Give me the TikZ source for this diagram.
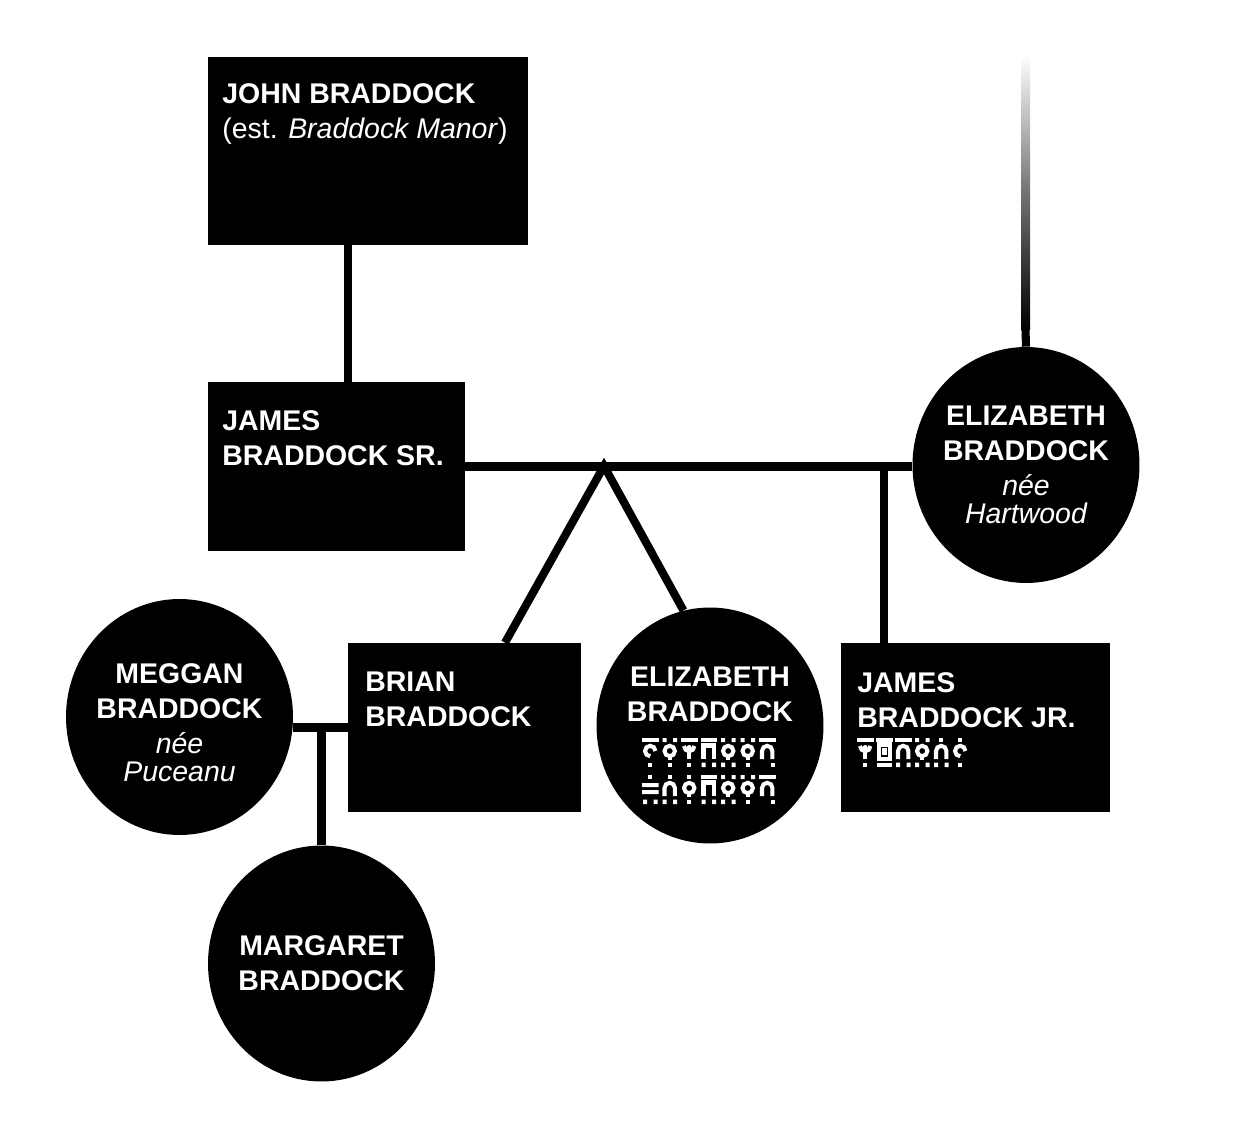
\documentclass[tikz,border=0pt]{standalone}
\usepackage{fontspec}
\setmainfont{Liberation Sans}
\usetikzlibrary{shapes.geometric}

\newcommand{\namesize}{\fontsize{16.2pt}{19.9pt}\selectfont}
\tikzset{
  box/.style={rectangle, fill=black, inner sep=0pt},
  disc/.style={ellipse, fill=black, inner sep=0pt, minimum width=4.54cm, minimum height=4.72cm},
  nametext/.style={text=white, inner sep=0pt, align=left, font=\namesize\bfseries},
  link/.style={line width=4.6pt},
  glyphline/.style={draw=white, line width=2.3pt},
}
% pieces of the made-up script, 16 x 29 px
\newcommand{\gbar}{\fill[white] (0,0) rectangle (16.5,4.2);}
\newcommand{\gtwo}{\fill[white] (1,0) rectangle (5,4.2) (11.5,0) rectangle (15.5,4.2);}
\newcommand{\gone}{\fill[white] (6.2,0) rectangle (10.2,4.2);}
\newcommand{\gring}{\draw[glyphline] (8.2,13) circle (5.2); \fill[white] (6.2,18) rectangle (10.2,22);}
\newcommand{\garch}{\draw[glyphline] (3,21) -- (3,13) arc (180:360:5.2) -- (13.4,21);}
\newcommand{\gcup}{\draw[glyphline] (3,8) arc (180:0:5.2); \fill[white] (8.2,9.5) circle (2.5); \fill[white] (6.2,13) rectangle (10.2,21);}
\newcommand{\gcee}{\draw[glyphline] (13.4,13) arc (0:-270:5.2);}
\newcommand{\gpi}{\draw[glyphline] (3,21) -- (3,7.5) -- (13.4,7.5) -- (13.4,21); \fill[white] (3,5.5) rectangle (13.4,10);}
\newcommand{\gbox}{\draw[glyphline] (2.6,6.5) rectangle (13.8,21); \fill[white] (5.8,10) rectangle (10.6,17);}
\newcommand{\gbars}{\fill[white] (0,8) rectangle (16.5,12) (0,15) rectangle (16.5,19);}
\newcommand{\gdot}{\fill[white] (6.2,24.5) rectangle (10.2,29);}
\newcommand{\gdots}{\fill[white] (1,24.5) rectangle (5,29) (11.5,24.5) rectangle (15.5,29);}
\newcommand{\gdotr}{\fill[white] (11.5,24.5) rectangle (15.5,29);}
\newcommand{\glow}{\fill[white] (1,24.5) rectangle (15.5,29);}
\newcommand{\glyph}[2]{\begin{scope}[shift={(#1)}] #2 \end{scope}}

\begin{document}
\begin{tikzpicture}[x=0.02cm,y=-0.02cm]
    \useasboundingbox (0,0) rectangle (1240,1124);

    % boxes
    \node[box, minimum width=6.4cm, minimum height=3.76cm] (john) at (368,151) {};
    \node[box, minimum width=5.14cm, minimum height=3.38cm] (jamessr) at (336.5,466.5) {};
    \node[box, minimum width=4.66cm, minimum height=3.38cm] (brian) at (464.5,727.5) {};
    \node[box, minimum width=5.38cm, minimum height=3.38cm] (jamesjr) at (975.5,727.5) {};

    % circles
    \node[disc] (elizh) at (1026,465) {};
    \node[disc] (elizc) at (710,725.5) {};
    \node[disc] (meggan) at (179.5,717) {};
    \node[disc] (margaret) at (321.5,963.5) {};

    % names
    \node[nametext, anchor=north west] (johntext) at (222,83) {JOHN BRADDOCK\\{\mdseries (est. \textit{Braddock Manor})}};
    \node[nametext, anchor=north west] (jamessrtext) at (222,410) {JAMES\\BRADDOCK SR.};
    \node[nametext, anchor=north west] (briantext) at (365,672) {BRIAN\\BRADDOCK};
    \node[nametext, anchor=north west] (jamesjrtext) at (857,672) {JAMES\\BRADDOCK JR.};
    \node[nametext, align=center] (elizhtext) at (elizh) {ELIZABETH\\BRADDOCK\\{\mdseries\itshape née}\\[-4pt]{\mdseries\itshape Hartwood}};
    \node[nametext, align=center, anchor=north] (elizctext) at (710,667) {ELIZABETH\\BRADDOCK};
    \node[nametext, align=center] (meggantext) at (179.5,723) {MEGGAN\\BRADDOCK\\{\mdseries\itshape née}\\[-4pt]{\mdseries\itshape Puceanu}};
    \node[nametext, align=center] (margarettext) at (margaret) {MARGARET\\BRADDOCK};

    % script under elizabeth
    \glyph{642,738}{\gbar\gcee\gdot}
    \glyph{661.5,738}{\gtwo\gring\gdot}
    \glyph{681,738}{\gbar\gcup\gdot}
    \glyph{700.5,738}{\gbar\gpi\gdots}
    \glyph{720,738}{\gtwo\gring\gdots}
    \glyph{739.5,738}{\gtwo\gring\gdot}
    \glyph{759,738}{\gbar\garch\gdotr}
    \glyph{642,775}{\gone\gbars\gdots}
    \glyph{661.5,775}{\gone\garch\gdots}
    \glyph{681,775}{\gone\gring\gdot}
    \glyph{700.5,775}{\gbar\gpi\gdots}
    \glyph{720,775}{\gtwo\gring\gdots}
    \glyph{739.5,775}{\gtwo\gring\gdot}
    \glyph{759,775}{\gbar\garch\gdotr}

    % script under james jr.
    \glyph{857,738}{\gbar\gcup\gdot}
    \glyph{876,738}{\gbar\gbox\glow}
    \glyph{895,738}{\gbar\garch\gdots}
    \glyph{914,738}{\gtwo\gring\gdots}
    \glyph{933,738}{\gone\garch\gdots}
    \glyph{952,738}{\gone\gcee\gdot}

    % lines
    \coordinate (kids) at (604,466);
    \coordinate (fade) at (1025.5,330);
    \draw[link] (john.south -| 348,0) -- (jamessr.north -| 348,0);
    \draw[link] (jamessr.east) -- (jamessr.east -| elizh.west);%marriage
    \draw[link] (brian.north -| 505,0) -- (kids) -- (elizc.103);
    \draw[link] (jamessr.east -| 884,0) -- (jamesjr.north -| 884,0);
    \draw[link] (meggan.east |- brian.west) -- (brian.west);%marriage
    \draw[link] (margaret.north |- brian.west) -- (margaret.north);
    \shade[top color=white, bottom color=black, middle color=black!55] (1021,55) rectangle (1030,330);
    \draw[link] (fade) -- (elizh.north);

\end{tikzpicture}
\end{document}
